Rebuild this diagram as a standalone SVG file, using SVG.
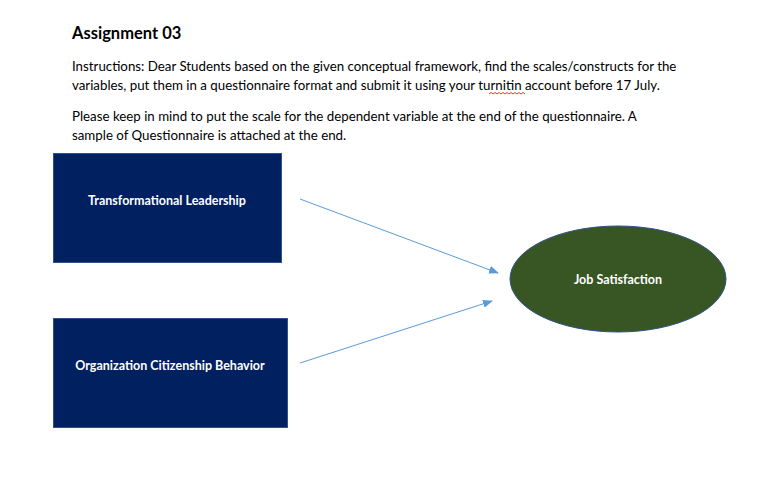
<svg xmlns="http://www.w3.org/2000/svg" width="782" height="487" viewBox="0 0 782 487">
<style>
text{font-family:Lato,"Open Sans","Liberation Sans",sans-serif}
.b{font-size:13.3px;fill:#000}
.n{font-size:12.5px;font-weight:bold;fill:#fff}
.box{fill:#002060;stroke:#2f528f;stroke-width:1}
.c{stroke:#5b9bd5;stroke-width:1;fill:none;marker-end:url(#ah)}
</style>
<defs><marker id="ah" markerWidth="10" markerHeight="8" refX="9" refY="4" orient="auto" markerUnits="userSpaceOnUse"><path d="M0,0 L10,4 L0,8 z" fill="#5b9bd5"/></marker></defs>
<rect width="782" height="487" fill="#fff"/>
<text x="72" y="39" style="font-size:16.5px;font-weight:bold">Assignment 03</text>
<text class="b" x="72" y="71">Instructions: Dear Students based on the given conceptual framework, find the scales/constructs for the</text>
<text class="b" x="72" y="90">variables, put them in a questionnaire format and submit it using your turnitin account before 17 July.</text>
<path d="M489,94 l2,-1.5 2,1.5 2,-1.5 2,1.5 2,-1.5 2,1.5 2,-1.5 2,1.5 2,-1.5 2,1.5 2,-1.5 2,1.5 2,-1.5 2,1.5 2,-1.5 2,1.5 2,-1.5 2,1.5" stroke="#e00" stroke-width="0.8" fill="none"/>
<text class="b" x="72" y="121">Please keep in mind to put the scale for the dependent variable at the end of the questionnaire. A</text>
<text class="b" x="72" y="140">sample of Questionnaire is attached at the end.</text>
<g id="tl"><rect class="box" x="53.5" y="153.5" width="228" height="109"/><text class="n" x="167" y="205" text-anchor="middle">Transformational Leadership</text></g>
<g id="ocb"><rect class="box" x="53.5" y="318.5" width="234" height="109"/><text class="n" x="170" y="370" text-anchor="middle">Organization Citizenship Behavior</text></g>
<g id="js"><ellipse cx="618" cy="279" rx="108" ry="53" fill="#375623" stroke="#2f528f"/><text class="n" x="618" y="284" text-anchor="middle">Job Satisfaction</text></g>
<g id="connectors"><line class="c" x1="300" y1="199" x2="498" y2="273"/><line class="c" x1="300" y1="363" x2="492" y2="301"/></g>
</svg>
